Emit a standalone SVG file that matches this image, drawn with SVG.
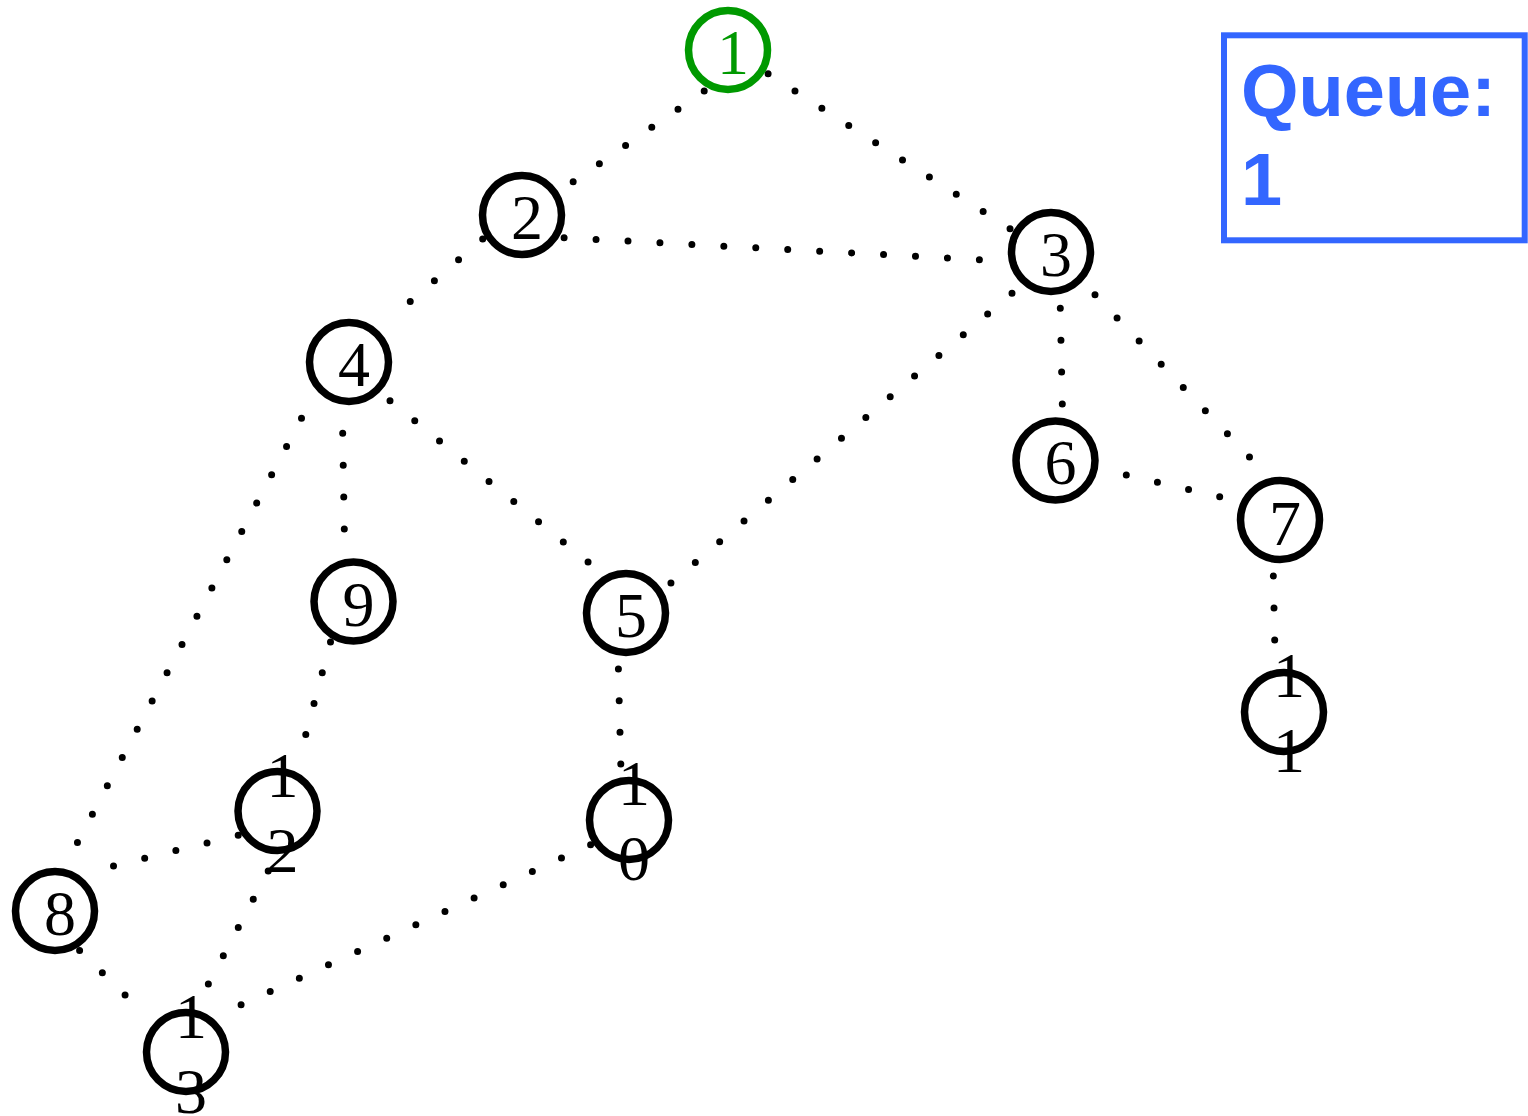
<svg xmlns="http://www.w3.org/2000/svg" width="1528" height="1116" viewBox="0 0 1528 1116">
  <style>
    .edge { stroke: #000; stroke-width: 7; stroke-linecap: round; stroke-dasharray: 0 1; fill: none; }
    .ring { fill: #fff; stroke: #000; stroke-width: 7.5; }
    .label { font-family: "Liberation Serif", "Times New Roman", serif; font-size: 64px; text-anchor: middle; fill: #000; }
    .start .ring { stroke: #009900; }
    .start .label { fill: #009900; }
    .queue-box { fill: none; stroke: #3366ff; stroke-width: 6; }
    .queue-text { font-family: "Liberation Sans", Arial, sans-serif; font-weight: bold; font-size: 74px; fill: #3366ff; }
  </style>

  <!-- dotted edges: pathLength = dot count - 0.99, so each dash period is one dot gap -->
  <g id="edges">
    <line class="edge" x1="704.2" y1="91" x2="572.9" y2="182" pathLength="5.01"/>
    <line class="edge" x1="768.1" y1="73.7" x2="1010.3" y2="229" pathLength="9.01"/>
    <line class="edge" x1="564.1" y1="237.7" x2="979.7" y2="259.7" pathLength="13.01"/>
    <line class="edge" x1="482.7" y1="239" x2="410" y2="301.7" pathLength="3.01"/>
    <line class="edge" x1="1012" y1="293.3" x2="670.7" y2="583.3" pathLength="14.01"/>
    <line class="edge" x1="1060.3" y1="308.3" x2="1062.3" y2="404.3" pathLength="3.01"/>
    <line class="edge" x1="1095" y1="294.7" x2="1249.7" y2="457.3" pathLength="7.01"/>
    <line class="edge" x1="342.7" y1="433.3" x2="344.3" y2="529.3" pathLength="3.01"/>
    <line class="edge" x1="390" y1="400.7" x2="588.3" y2="562.3" pathLength="8.01"/>
    <line class="edge" x1="301.5" y1="418.3" x2="77.3" y2="842.7" pathLength="15.01"/>
    <line class="edge" x1="1126.3" y1="475" x2="1220" y2="496.7" pathLength="3.01"/>
    <line class="edge" x1="1273.3" y1="576" x2="1274.7" y2="640.3" pathLength="2.01"/>
    <line class="edge" x1="330.5" y1="642" x2="305.7" y2="734.7" pathLength="3.01"/>
    <line class="edge" x1="618.4" y1="669" x2="620.8" y2="764.3" pathLength="3.01"/>
    <line class="edge" x1="238.2" y1="835.2" x2="113.2" y2="866" pathLength="4.01"/>
    <line class="edge" x1="79.6" y1="950.5" x2="125.3" y2="995.3" pathLength="2.01"/>
    <line class="edge" x1="268.2" y1="871" x2="208.2" y2="984.3" pathLength="4.01"/>
    <line class="edge" x1="590.6" y1="844.7" x2="240.8" y2="1005" pathLength="12.01"/>
  </g>

  <g id="node-1" class="start">
    <circle class="ring" cx="728" cy="50" r="39.5"/>
    <text class="label" x="733" y="74">1</text>
  </g>
  <g id="node-2">
    <circle class="ring" cx="522" cy="215" r="39.5"/>
    <text class="label" x="527" y="239">2</text>
  </g>
  <g id="node-3">
    <circle class="ring" cx="1051" cy="252" r="39.5"/>
    <text class="label" x="1056" y="276">3</text>
  </g>
  <g id="node-4">
    <circle class="ring" cx="349" cy="362" r="39.5"/>
    <text class="label" x="354" y="386">4</text>
  </g>
  <g id="node-5">
    <circle class="ring" cx="626" cy="613" r="39.5"/>
    <text class="label" x="631" y="637">5</text>
  </g>
  <g id="node-6">
    <circle class="ring" cx="1055.5" cy="460.5" r="39.5"/>
    <text class="label" x="1060.5" y="484">6</text>
  </g>
  <g id="node-7">
    <circle class="ring" cx="1280" cy="520" r="39.5"/>
    <text class="label" x="1285" y="545">7</text>
  </g>
  <g id="node-8">
    <circle class="ring" cx="55" cy="911" r="39.5"/>
    <text class="label" x="60" y="935">8</text>
  </g>
  <g id="node-9">
    <circle class="ring" cx="353.5" cy="601.5" r="39.5"/>
    <text class="label" x="358.5" y="625.5">9</text>
  </g>
  <g id="node-10">
    <circle class="ring" cx="629" cy="820" r="39.5"/>
    <text class="label"><tspan x="634" y="805">1</tspan><tspan x="634" y="880">0</tspan></text>
  </g>
  <g id="node-11">
    <circle class="ring" cx="1284" cy="712" r="39.5"/>
    <text class="label"><tspan x="1289" y="697">1</tspan><tspan x="1289" y="772">1</tspan></text>
  </g>
  <g id="node-12">
    <circle class="ring" cx="277.5" cy="811" r="39.5"/>
    <text class="label"><tspan x="282.5" y="797">1</tspan><tspan x="282.5" y="872">2</tspan></text>
  </g>
  <g id="node-13">
    <circle class="ring" cx="186" cy="1052" r="39.5"/>
    <text class="label"><tspan x="191" y="1038">1</tspan><tspan x="191" y="1113">3</tspan></text>
  </g>

  <g id="queue">
    <rect class="queue-box" x="1224" y="35.3" width="300.7" height="205"/>
    <text class="queue-text"><tspan x="1241" y="115.7">Queue:</tspan><tspan x="1241" y="205">1</tspan></text>
  </g>
</svg>
